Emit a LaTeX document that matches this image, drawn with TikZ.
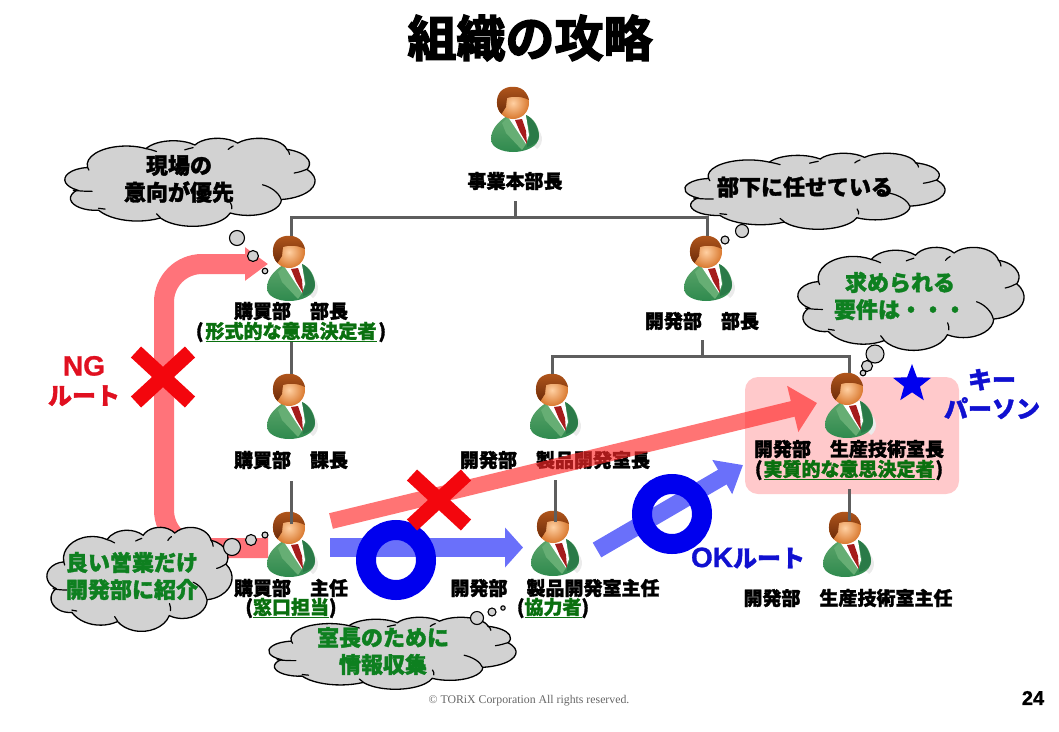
\documentclass[tikz,border=0pt]{standalone}
\usepackage{fontspec}
\setmainfont{Noto Sans CJK JP}[BoldFeatures={FakeBold=1.6}]
\newfontfamily\heavy{Noto Sans CJK JP Bold}[FakeBold=3]
\newfontfamily\mylat{Liberation Sans}[BoldFeatures={FakeBold=1}]
\newfontfamily\myserif{Liberation Serif}
\usetikzlibrary{arrows.meta,shapes.geometric}
\definecolor{orgline}{HTML}{5E5E5E}
\definecolor{cloudgrey}{HTML}{D2D2D2}
\definecolor{dkgreen}{HTML}{0A700F}
\definecolor{cgreen}{HTML}{0E8020}
\definecolor{ngred}{HTML}{E01020}
\definecolor{okblue}{HTML}{1010D0}
\definecolor{pinkbox}{HTML}{FFC9CB}
\definecolor{ngarrow}{HTML}{FF737A}
\definecolor{okarrow}{HTML}{6A70FA}
\definecolor{ringblue}{HTML}{0000EE}
\definecolor{suitT}{HTML}{5DA56B}
\definecolor{suitB}{HTML}{2F8A4E}
\definecolor{suitD}{HTML}{2A7A48}
\definecolor{suitL}{HTML}{66AE74}
\definecolor{hairT}{HTML}{B4581C}
\definecolor{hairB}{HTML}{6E2C0A}
\definecolor{faceI}{HTML}{FFD0A2}
\definecolor{faceO}{HTML}{D9782E}
\definecolor{tiered}{HTML}{A51C1C}
\newcommand{\fsz}[1]{\fontsize{#1}{#1}\selectfont\bfseries}
\newcommand{\nt}[1]{\textcolor{dkgreen}{\underline{#1}}}
\newcommand{\latn}[1]{{\mylat\fontsize{28}{29}\selectfont #1}}
\newcommand{\ooang}[5]{%
  \pgfmathsetmacro\tmpS{atan2(#2*sin(#4),#3*cos(#4))}%
  \pgfmathsetmacro\tmpE{atan2(#2*sin(#4+#5),#3*cos(#4+#5))}%
  \pgfmathsetmacro\tmpD{\tmpE-\tmpS}%
  \pgfmathsetmacro\tmpD{\tmpD<0?\tmpD+360:\tmpD}%
  \expandafter\edef\csname #1\endcsname{arc[start angle=\tmpS,delta angle=\tmpD,x radius=#2,y radius=#3]}}
\ooang{arcA}{67.53}{91.90}{-190.4875}{123.7805}
\ooang{arcB}{53.33}{72.67}{-144.1024}{89.9452}
\ooang{arcC}{43.65}{59.45}{-145.8079}{99.7230}
\ooang{arcD}{48.57}{65.95}{-130.9861}{117.2417}
\ooang{arcE}{53.33}{72.73}{-78.7089}{109.0269}
\ooang{arcF}{67.75}{92.20}{-46.2673}{130.2690}
\ooang{arcG}{57.85}{78.67}{0.6250}{114.0333}
\ooang{arcH}{67.52}{92.15}{22.4516}{115.1726}
\ooang{arcI}{77.20}{105.43}{66.2426}{75.7110}
\ooang{arcJ}{43.60}{59.18}{-274.9421}{146.7356}
\ooang{arcK}{43.45}{59.45}{-246.8285}{152.5189}
\tikzset{
  x=1pt,y=-1pt,
  lbl/.style={inner sep=0pt,outer sep=0pt,text=black,font=\fsz{19}},
  cloudblk/.style={inner sep=0pt,align=center,text=black,font=\fontsize{22}{27}\selectfont\bfseries},
  cloudgrn/.style={inner sep=0pt,align=center,text=cgreen,font=\fontsize{22}{27}\selectfont\bfseries},
  route/.style={inner sep=0pt,align=center,font=\fontsize{24}{29}\selectfont\bfseries},
  head/.style={circle,inner sep=0pt,outer sep=0pt,minimum size=33pt},
  orgln/.style={draw=orgline,line width=3pt},
  bubble/.style={draw=black,fill=cloudgrey,line width=1.1pt},
  cloudline/.style={draw=black,fill=cloudgrey,line width=1.3pt},
  crease/.style={draw=black,line width=1.2pt,line cap=round},
  okring/.style={circle,draw=ringblue,line width=20pt,minimum size=60pt,inner sep=0pt,outer sep=0pt},
  keystar/.style={star,star points=5,star point ratio=2.4,fill=ringblue,minimum size=40pt,inner sep=0pt},
  staff/.pic={
    \fill[black!8] (20,22) .. controls (30,28) and (32,40) .. (24,46) -- (18,40) -- cycle;
    \shade[top color=suitT,bottom color=suitB] (-6,13) .. controls (-14,18) and (-22,26) .. (-22,36) .. controls (-22,45) and (-10,49) .. (0,49) .. controls (12,49) and (26,44) .. (26,33) .. controls (26,25) and (22,16) .. (13,12) -- cycle;
    \fill[suitL] (-5,14) -- (-11,20) -- (-7,30) -- (9,47) -- (13,41) -- cycle;
    \fill[white] (-5,14) -- (13,12) -- (16,32) -- (13,41) -- cycle;
    \fill[suitD] (13,12) .. controls (20,15) and (25,24) .. (26,33) .. controls (26,38) and (22,42) .. (14,44) -- (14,41) -- (17,32) -- cycle;
    \fill[tiered] (2,17) -- (9,16) -- (13,28) -- (14,41) -- (7,29) -- cycle;
    \shade[inner color=faceI,outer color=faceO] (0,0) circle (16);
    \shade[top color=hairT,bottom color=hairB] (-11.5,11) .. controls (-17,6) and (-18,-6) .. (-12,-12) .. controls (-6,-18) and (8,-18) .. (13,-10) .. controls (15,-7) and (16,-4) .. (16,-3) .. controls (8,-7) and (0,-7) .. (-6,-5) -- (-7,4) -- cycle;
  },
  xcross/.pic={
    \draw[ngred!40!red,line width=15pt] (-27,-25) -- (27,25) (27,-25) -- (-27,25);
  }
}
% PowerPoint-style cloud: name, left, top, width, height
\newcommand{\cloudat}[5]{%
  \coordinate (#1) at (#2+#4/2,#3+#5/2);
  \begin{scope}[shift={(#2,#3)},x=#4pt/432,y=-#5pt/432]
    \path[cloudline] (39,143.7) \arcA \arcB \arcC \arcD \arcE \arcF \arcG \arcH \arcI \arcJ \arcK -- cycle;
    \draw[crease] (46.9,261.8) .. controls (36,262) and (22,260) .. (14,256);
    \draw[crease] (69.3,349) .. controls (66,348) and (63,347) .. (58,345);
    \draw[crease] (164.8,390.9) .. controls (162,385) and (160,380) .. (158,372);
    \draw[crease] (288.3,347.5) .. controls (289,340) and (288,328) .. (286,318);
    \draw[crease] (341.3,229.5) .. controls (356,240) and (370,270) .. (373,300);
    \draw[crease] (418,153.5) .. controls (410,162) and (405,168) .. (396,172);
    \draw[crease] (383.2,54.3) .. controls (386,62) and (388,72) .. (388,80);
    \draw[crease] (290.8,39.5) .. controls (287,44) and (284,50) .. (282,56);
    \draw[crease] (221.4,47.2) .. controls (216,50) and (212,54) .. (207,58);
    \draw[crease] (140,51.9) .. controls (146,55) and (152,60) .. (158,66);
    \draw[crease] (41.3,157.9) .. controls (40,152) and (39.5,148) .. (39,143.7);
  \end{scope}}
\begin{document}
\begin{tikzpicture}
\useasboundingbox (0,0) rectangle (1059,731);
% pink highlight
\fill[pinkbox,rounded corners=13pt] (745,377) rectangle (959,494);
% NG and OK routes under the clouds
\coordinate (ngA) at (268,548);
\coordinate (ngB) at (164,548);
\coordinate (ngC) at (164,264);
\coordinate (ngD) at (268,264);
\draw[ngarrow,line width=20pt,rounded corners=38pt,-{Triangle[length=23pt,width=32pt]}] (ngA) -- (ngB) -- (ngC) -- (ngD);
\coordinate (okA) at (330,547.5);
\coordinate (okB) at (523,547.5);
\draw[okarrow,line width=19pt,-{Triangle[length=18pt,width=39pt]}] (okA) -- (okB);
\coordinate (okC) at (597,550);
\coordinate (okD) at (743,465);
\draw[okarrow,line width=17pt,-{Triangle[length=24pt,width=38pt]}] (okC) -- (okD);
% clouds
\cloudat{cA}{65}{138}{250}{88}
\cloudat{cB}{685}{153}{260}{76}
\cloudat{cC}{798}{247}{226}{103}
\cloudat{cD}{47}{527}{185}{104}
\cloudat{cE}{269}{617}{247}{72}
% thought bubbles
\path[bubble] (237,238) circle (7.5) (253,256) circle (5.5) (265,271) circle (2.8);
\path[bubble] (742,231) circle (6.5) (725,240) circle (4) (712,247) circle (2);
\path[bubble] (875,354) circle (9) (867,366) circle (5.5) (863,373) circle (2.8);
\path[bubble] (232,547) circle (8.5) (251,540) circle (5.5) (265,535) circle (3);
\path[bubble] (477,618) circle (6.5) (492,612) circle (4) (503,608) circle (2.2);
% people
\node[head] (chief) at (513,103) {}; \pic at (chief) {staff};
\node[head] (buyA) at (289,252) {}; \pic at (buyA) {staff};
\node[head] (devA) at (706,252) {}; \pic at (devA) {staff};
\node[head] (buyB) at (289,390) {}; \pic at (buyB) {staff};
\node[head] (devB) at (552,390) {}; \pic at (devB) {staff};
\node[head] (techB) at (847,389) {}; \pic at (techB) {staff};
\node[head] (buyC) at (289,528) {}; \pic at (buyC) {staff};
\node[head] (devC) at (553,527) {}; \pic at (devC) {staff};
\node[head] (techC) at (845,528) {}; \pic at (techC) {staff};
% labels
\node[lbl] (lChief) at (515,181) {事業本部長};
\node[lbl] (lBuyA) at (291,311) {購買部　部長};
\node[lbl] (nBuyA) at (291,332) {(\hspace{2pt}\nt{形式的な意思決定者}\hspace{2pt})};
\node[lbl] (lBuyB) at (291,460) {購買部　課長};
\node[lbl] (lBuyC) at (291,588) {購買部　主任};
\node[lbl] (nBuyC) at (291,608) {(\nt{窓口担当})};
\node[lbl] (lDevA) at (702,321) {開発部　部長};
\node[lbl] (lDevB) at (555,460) {開発部　製品開発室長};
\node[lbl] (lDevC) at (555,588) {開発部　製品開発室主任};
\node[lbl] (nDevC) at (553,608) {(\nt{協力者})};
\node[lbl] (lTechB) at (849,449) {開発部　生産技術室長};
\node[lbl] (nTechB) at (849,470) {(\hspace{1pt}\nt{実質的な意思決定者}\hspace{1pt})};
\node[lbl] (lTechC) at (848,598) {開発部　生産技術室主任};
% organisation lines
\coordinate (jTop) at (515,217);
\coordinate (jDev) at (702,356);
\draw[orgln] ([yshift=-11pt]lChief.south) -- (jTop);
\draw[orgln] ([xshift=2pt]buyA.north) |- (jTop);
\draw[orgln] ([xshift=1pt]devA.north) |- (jTop);
\draw[orgln] (nBuyA.south) -- (nBuyA.south |- buyB.north);
\draw[orgln] ([yshift=-12pt]lBuyB.south) -- ([yshift=-12pt]lBuyB.south |- buyC.north);
\draw[orgln] ([yshift=-10pt]lDevA.south) -- (jDev);
\draw[orgln] (devB.north) |- (jDev);
\draw[orgln] ([xshift=2pt]techB.north) |- (jDev);
\draw[orgln] ([yshift=-11pt]lDevB.south) -- ([yshift=-11pt]lDevB.south |- devC.north);
\draw[orgln] ([yshift=-9pt]nTechB.south) -- ([yshift=-9pt]nTechB.south |- techC.north);
% key-person route over the labels
\coordinate (keyA) at (331,521);
\coordinate (keyB) at (817,403);
\begin{scope}[transparency group,opacity=.65]
\draw[red!84!white!100,line width=16pt,-{Triangle[length=25pt,width=46pt]}] (keyA) -- (keyB);
\end{scope}
% rings and crosses
\node[okring] (ringA) at (396,560) {};
\node[okring] (ringB) at (672,514) {};
\pic at (163,377) {xcross};
\pic at (439,500) {xcross};
\node[keystar] (star) at (912,384) {};
% cloud texts
\node[cloudblk] (tA) at (179,179) {現場の\\意向が優先};
\node[cloudblk] (tB) at (805,187) {部下に任せている};
\node[cloudgrn] (tC) at (900,296) {求められる\\要件は・・・};
\node[cloudgrn] (tD) at (132,576) {良い営業だけ\\開発部に紹介};
\node[cloudgrn] (tE) at (383,651) {室長のために\\情報収集};
% route labels
\node[route,text=ngred] (tNG) at (84,381) {\latn{NG}\\ルート};
\node[route,text=okblue] (tKey) at (992,394) {キー\\パーソン};
\node[route,text=okblue] (tOK) at (748,558) {\latn{OK}ルート};
% title, footer
\node[inner sep=0pt,font=\heavy\fontsize{49}{49}\selectfont] (title) at (530,38) {組織の攻略};
\node[inner sep=0pt,text=black!60,font=\myserif\fontsize{11.8}{13}\selectfont] (copy) at (529,701) {© TORiX Corporation All rights reserved.};
\node[inner sep=0pt,font=\mylat\fontsize{20}{20}\selectfont\bfseries] (page) at (1033,698) {24};
\end{tikzpicture}
\end{document}
